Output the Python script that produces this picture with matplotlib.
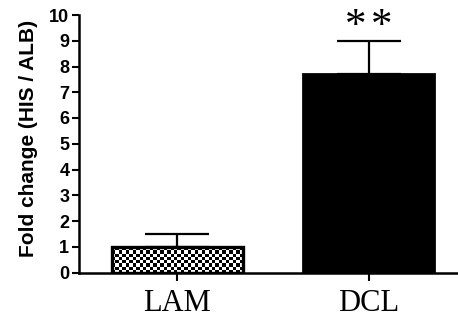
import numpy as np
import matplotlib.pyplot as plt

# group means and upper error (SEM)
groups = ['LAM', 'DCL']
fold_change = [1.0, 7.7]
err_upper = [0.5, 1.3]
n_stars = [0, 2]

fig = plt.figure(figsize=(4.58, 3.22), dpi=100)
ax = fig.add_axes([79 / 458, 1 - 272.5 / 322, 1 - 79 / 458, (272.5 - 15) / 322])

x = np.arange(len(groups))
bars = ax.bar(x, fold_change, width=0.684, color=['white', 'black'],
              edgecolor='black', linewidth=2.0, zorder=2)
ax.errorbar(x, fold_change, yerr=[np.zeros(len(x)), err_upper], fmt='none',
            ecolor='black', elinewidth=1.6, capsize=23, capthick=1.6, zorder=1)

# checkerboard fill for the first bar
b = bars[0]
bx0, by0 = b.get_x(), b.get_y()
bw, bh = b.get_width(), b.get_height()
checker = np.indices((8, 38)).sum(axis=0) % 2
im = ax.imshow(checker, cmap='gray', interpolation='nearest', aspect='auto',
               extent=[bx0, bx0 + bw, by0, by0 + bh], origin='lower', zorder=2.5)
im.set_clip_path(b)
ax.bar(x[0], fold_change[0], width=0.684, color='none', edgecolor='black',
       linewidth=2.4, zorder=3)

# significance stars above the error bars
for xi, yi, ei, n in zip(x, fold_change, err_upper, n_stars):
    for k in range(n):
        dx = (k - (n - 1) / 2) * 19
        ax.annotate('*', (xi, yi + ei), xytext=(dx, -4), textcoords='offset points',
                    ha='center', va='bottom', fontsize=31,
                    fontfamily='Liberation Serif')

ax.set_xlim(-0.514, 1.465)
ax.set_ylim(0, 10)
ax.set_yticks(range(0, 11))
ax.set_xticks(x)
ax.set_xticklabels(groups, fontfamily='Liberation Serif', fontsize=22)
for lab in ax.get_yticklabels():
    lab.set_fontfamily('Liberation Sans')
    lab.set_fontweight('bold')
    lab.set_fontsize(13)
ax.set_ylabel('Fold change (HIS / ALB)', fontfamily='Liberation Sans',
              fontweight='bold', fontsize=15)
ax.yaxis.set_label_coords(-0.108, 0.52)

for side in ['top', 'right']:
    ax.spines[side].set_visible(False)
for side in ['left', 'bottom']:
    ax.spines[side].set_linewidth(1.8)
ax.tick_params(axis='y', length=5, width=1.5, pad=2)
ax.tick_params(axis='x', length=6, width=1.5, pad=6)

fig.savefig('out.png', dpi=100)
